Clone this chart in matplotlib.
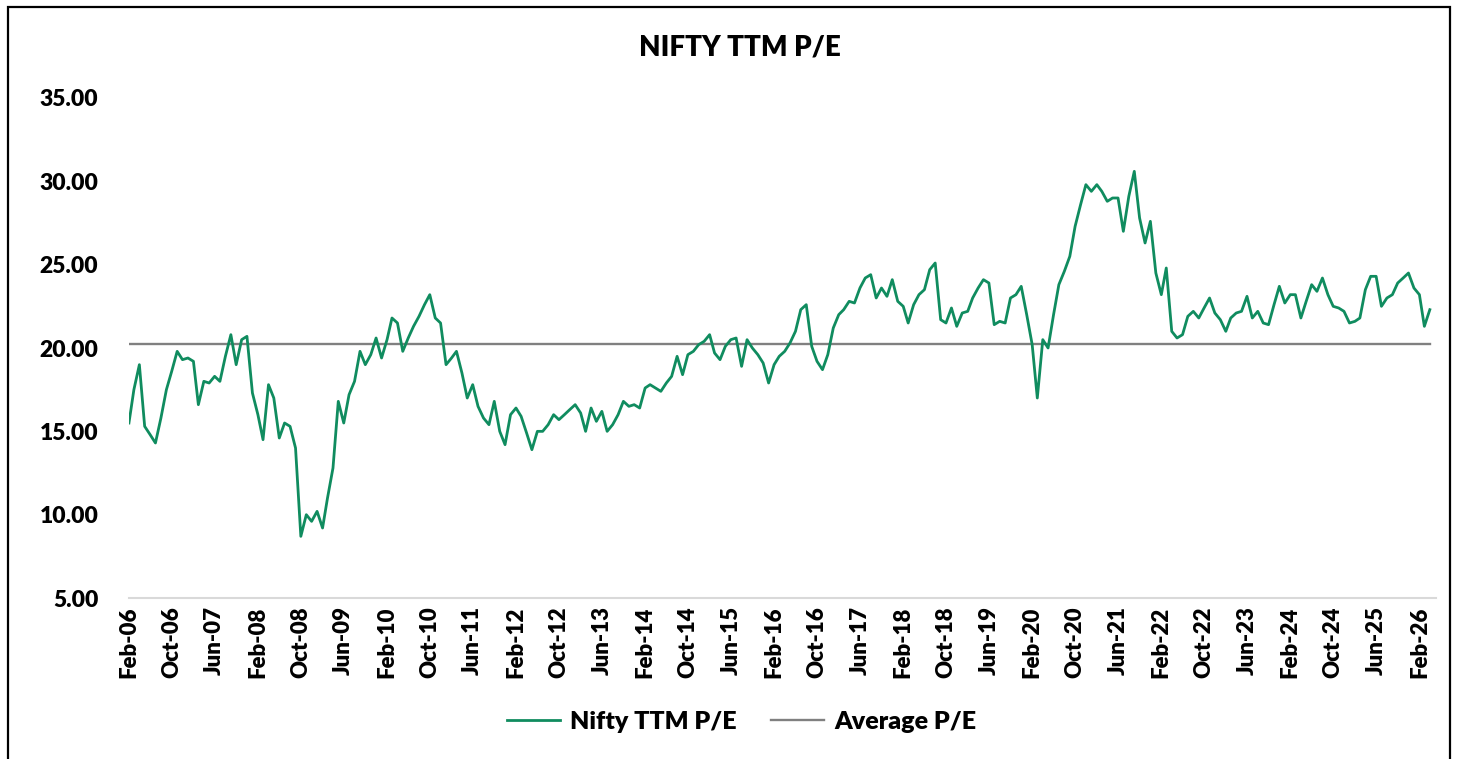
import pandas as pd
import matplotlib
matplotlib.use("Agg")
import matplotlib.pyplot as plt
import matplotlib.dates as mdates
from matplotlib.patches import Rectangle
from matplotlib.ticker import FormatStrFormatter

plt.rcParams["font.family"] = ["Lato", "DejaVu Sans"]

# Nifty trailing P/E, monthly readings (Feb-06 .. Apr-26)
pe_2006 = [15.5, 17.5, 19.0, 15.3, 14.8, 14.3, 15.8, 17.5, 18.6, 19.8, 19.3]
pe_2007 = [19.4, 19.2, 16.6, 18.0, 17.9, 18.3, 18.0, 19.5, 20.8, 19.0, 20.5, 20.7]
pe_2008 = [17.3, 16.0, 14.5, 17.8, 17.0, 14.6, 15.5, 15.3, 14.0, 8.7, 10.0, 9.6]
pe_2009 = [10.2, 9.2, 11.0, 12.8, 16.8, 15.5, 17.2, 18.0, 19.8, 19.0, 19.6, 20.6]
pe_2010 = [19.4, 20.5, 21.8, 21.5, 19.8, 20.6, 21.3, 21.9, 22.6, 23.2, 21.8, 21.5]
pe_2011 = [19.0, 19.4, 19.8, 18.5, 17.0, 17.8, 16.5, 15.8, 15.4, 16.8, 15.0, 14.2]
pe_2012 = [16.0, 16.4, 15.9, 14.9, 13.9, 15.0, 15.0, 15.4, 16.0, 15.7, 16.0, 16.3]
pe_2013 = [16.6, 16.1, 15.0, 16.4, 15.6, 16.2, 15.0, 15.4, 16.0, 16.8, 16.5, 16.6]
pe_2014 = [16.4, 17.6, 17.8, 17.6, 17.4, 17.9, 18.3, 19.5, 18.4, 19.6, 19.8, 20.2]
pe_2015 = [20.4, 20.8, 19.7, 19.3, 20.1, 20.5, 20.6, 18.9, 20.5, 20.0, 19.6, 19.1]
pe_2016 = [17.9, 19.0, 19.5, 19.8, 20.3, 21.0, 22.3, 22.6, 20.1, 19.2, 18.7, 19.6]
pe_2017 = [21.2, 22.0, 22.3, 22.8, 22.7, 23.6, 24.2, 24.4, 23.0, 23.6, 23.1, 24.1]
pe_2018 = [22.8, 22.5, 21.5, 22.6, 23.2, 23.5, 24.7, 25.1, 21.7, 21.5, 22.4, 21.3]
pe_2019 = [22.1, 22.2, 23.0, 23.6, 24.1, 23.9, 21.4, 21.6, 21.5, 23.0, 23.2, 23.7]
pe_2020 = [22.0, 20.2, 17.0, 20.5, 20.0, 22.0, 23.8, 24.6, 25.5, 27.3, 28.6, 29.8]
pe_2021 = [29.4, 29.8, 29.4, 28.8, 29.0, 29.0, 27.0, 29.1, 30.6, 27.8, 26.3, 27.6]
pe_2022 = [24.5, 23.2, 24.8, 21.0, 20.6, 20.8, 21.9, 22.2, 21.8, 22.4, 23.0, 22.1]
pe_2023 = [21.7, 21.0, 21.8, 22.1, 22.2, 23.1, 21.8, 22.2, 21.5, 21.4, 22.6, 23.7]
pe_2024 = [22.7, 23.2, 23.2, 21.8, 22.8, 23.8, 23.4, 24.2, 23.2, 22.5, 22.4, 22.2]
pe_2025 = [21.5, 21.6, 21.8, 23.5, 24.3, 24.3, 22.5, 23.0, 23.2, 23.9, 24.2, 24.5]
pe_2026 = [23.6, 23.2, 21.3, 22.3]

average_pe = 20.27

y_ticks = [5, 10, 15, 20, 25, 30, 35]

pe = (pe_2006 + pe_2007 + pe_2008 + pe_2009 + pe_2010 + pe_2011 + pe_2012
      + pe_2013 + pe_2014 + pe_2015 + pe_2016 + pe_2017 + pe_2018 + pe_2019
      + pe_2020 + pe_2021 + pe_2022 + pe_2023 + pe_2024 + pe_2025 + pe_2026)
dates = pd.date_range("2006-02-01", periods=len(pe), freq="MS")
tick_dates = pd.date_range("2006-02-01", "2026-02-01", freq="8MS")

GREEN = "#108C5F"
GREY = "#808080"

fig = plt.figure(figsize=(14.57, 7.59), dpi=100)
ax = fig.add_axes([0.0885, 0.2121, 0.8971, 0.6588])

ax.plot(dates, pe, color=GREEN, lw=2.0, label="Nifty TTM P/E", zorder=3)
ax.plot(dates, [average_pe] * len(dates), color=GREY, lw=1.7,
        label="Average P/E", zorder=2)

ax.set_ylim(5, 35)
ax.set_yticks(y_ticks)
ax.yaxis.set_major_formatter(FormatStrFormatter("%.2f"))
ax.set_xlim(pd.Timestamp("2006-02-01"), pd.Timestamp("2026-05-06"))
ax.set_xticks(tick_dates)
ax.xaxis.set_major_formatter(mdates.DateFormatter("%b-%y"))

for side in ["top", "right", "left"]:
    ax.spines[side].set_visible(False)
ax.spines["bottom"].set_color("#D9D9D9")
ax.spines["bottom"].set_linewidth(1.5)

ax.tick_params(axis="y", length=0, pad=22, labelsize=16.5)
ax.tick_params(axis="x", length=0, pad=6, labelsize=16, rotation=90)
for lbl in ax.get_yticklabels() + ax.get_xticklabels():
    lbl.set_fontweight("heavy")

fig.text(0.508, 0.938, "NIFTY TTM P/E", ha="center", va="center",
         fontsize=20, fontweight="heavy")

leg = fig.legend(loc="center", bbox_to_anchor=(0.509, 0.049), ncol=2,
                 frameon=False, handlelength=2.1, handletextpad=0.4,
                 columnspacing=1.4, prop={"size": 18, "weight": "heavy"})

# outer chart border
fig.patches.append(Rectangle((0.0055, -0.05), 0.9897, 1.041, transform=fig.transFigure,
                             fill=False, edgecolor="black", linewidth=1.6))

fig.savefig("out.png", dpi=100)
